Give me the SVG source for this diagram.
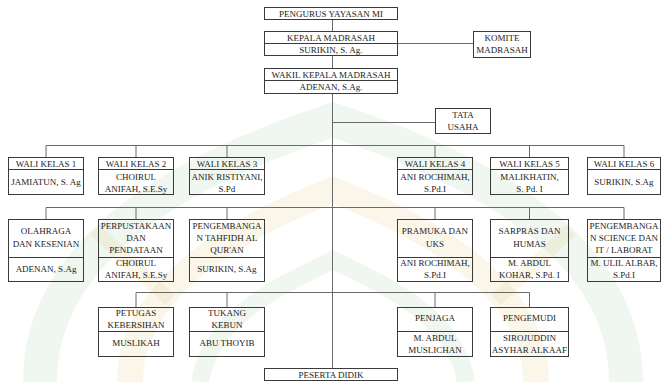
<svg xmlns="http://www.w3.org/2000/svg" width="662" height="382" viewBox="0 0 662 382">
<style>
.b{fill:none;stroke:#3a3a3a;stroke-width:1}
.d{stroke:#3a3a3a;stroke-width:1}
.c{fill:none;stroke:#6a6a6a;stroke-width:1}
text{font-family:"Liberation Serif","Times New Roman",serif;font-size:9px;fill:#222;text-anchor:middle}
.wg{fill:none;stroke:#6fa86f;stroke-opacity:0.10}
.wy{fill:none;stroke:#d8b860;stroke-opacity:0.13}
</style>
<rect width="662" height="382" fill="#fff"/>
<g id="watermark">
<path class="wg" stroke-width="34" d="M40,382 C40,250 180,170 333,120 C486,170 626,250 626,382"/>
<path class="wy" stroke-width="26" d="M130,382 C130,290 230,230 333,190 C436,230 536,290 536,382"/>
<path class="wg" stroke-width="18" d="M200,382 C210,320 270,290 333,260 C396,290 456,320 466,382"/>
<path class="wy" stroke-width="14" d="M95,230 L170,300 M571,230 L496,300"/>
</g>
<g id="connectors">
<path class="c" d="M332.5,19.5V31.5 M332.5,55.5V68.5 M332.5,93.5V368.5 M397.5,43.5H473.5 M332.5,122.5H435.5"/>
<path class="c" d="M46,145.5H624 M46,145.5V157.5 M136,145.5V157.5 M227,145.5V157.5 M435,145.5V157.5 M529.5,145.5V157.5 M624,145.5V157.5"/>
<path class="c" d="M46,207.5H624 M46,207.5V219.5 M136,207.5V219.5 M227,207.5V219.5 M435,207.5V219.5 M529.5,207.5V219.5 M624,207.5V219.5"/>
<path class="c" d="M136,292.5H529.5 M136,292.5V307.5 M227,292.5V307.5 M435,292.5V307.5 M529.5,292.5V307.5"/>
</g>
<g id="pengurus"><rect class="b" x="264.5" y="7.5" width="133" height="12"/><text x="331" y="16.5">PENGURUS YAYASAN MI</text></g>
<g id="kepala"><rect class="b" x="264.5" y="31.5" width="133" height="24"/><path class="d" d="M264.5,43.5H397.5"/><text x="331" y="40.5">KEPALA MADRASAH</text><text x="331" y="52.5">SURIKIN, S. Ag.</text></g>
<g id="komite"><rect class="b" x="473.5" y="31.5" width="57" height="26"/><text x="502" y="41">KOMITE</text><text x="502" y="53">MADRASAH</text></g>
<g id="wakil"><rect class="b" x="264.5" y="68.5" width="133" height="25"/><path class="d" d="M264.5,80.5H397.5"/><text x="331" y="77.5">WAKIL KEPALA MADRASAH</text><text x="331" y="90">ADENAN, S.Ag.</text></g>
<g id="tata"><rect class="b" x="435.5" y="108.5" width="55" height="25"/><text x="463" y="117.5">TATA</text><text x="463" y="130">USAHA</text></g>

<g id="wali1"><rect class="b" x="8.5" y="157.5" width="75" height="37"/><path class="d" d="M8.5,169.5H83.5"/><text x="46" y="166.5">WALI KELAS 1</text><text x="46" y="185">JAMIATUN, S. Ag</text></g>
<g id="wali2"><rect class="b" x="98.5" y="157.5" width="75" height="37"/><path class="d" d="M98.5,169.5H173.5"/><text x="136" y="166.5">WALI KELAS 2</text><text x="136" y="180">CHOIRUL</text><text x="136" y="192">ANIFAH, S.E.Sy</text></g>
<g id="wali3"><rect class="b" x="189.5" y="157.5" width="75" height="37"/><path class="d" d="M189.5,169.5H264.5"/><text x="227" y="166.5">WALI KELAS 3</text><text x="227" y="180">ANIK RISTIYANI,</text><text x="227" y="192">S.Pd</text></g>
<g id="wali4"><rect class="b" x="397.5" y="157.5" width="75" height="37"/><path class="d" d="M397.5,169.5H472.5"/><text x="435" y="166.5">WALI KELAS 4</text><text x="435" y="180">ANI ROCHIMAH,</text><text x="435" y="192">S.Pd.I</text></g>
<g id="wali5"><rect class="b" x="490.5" y="157.5" width="78" height="37"/><path class="d" d="M490.5,169.5H568.5"/><text x="529.5" y="166.5">WALI KELAS 5</text><text x="529.5" y="180">MALIKHATIN,</text><text x="529.5" y="192">S. Pd. I</text></g>
<g id="wali6"><rect class="b" x="587.5" y="157.5" width="73" height="37"/><path class="d" d="M587.5,169.5H660.5"/><text x="624" y="166.5">WALI KELAS 6</text><text x="624" y="185">SURIKIN, S.Ag</text></g>

<g id="olahraga"><rect class="b" x="8.5" y="219.5" width="75" height="62"/><path class="d" d="M8.5,257.5H83.5"/><text x="46" y="234">OLAHRAGA</text><text x="46" y="246.5">DAN KESENIAN</text><text x="46" y="271.5">ADENAN, S.Ag</text></g>
<g id="perpustakaan"><rect class="b" x="98.5" y="219.5" width="75" height="62"/><path class="d" d="M98.5,257.5H173.5"/><text x="136" y="228.5">PERPUSTAKAAN</text><text x="136" y="241">DAN</text><text x="136" y="253">PENDATAAN</text><text x="136" y="266">CHOIRUL</text><text x="136" y="278">ANIFAH, S.E.Sy</text></g>
<g id="tahfidh"><rect class="b" x="189.5" y="219.5" width="75" height="62"/><path class="d" d="M189.5,257.5H264.5"/><text x="227" y="228.5">PENGEMBANGA</text><text x="227" y="241">N TAHFIDH AL</text><text x="227" y="253">QUR'AN</text><text x="227" y="271.5">SURIKIN, S.Ag</text></g>
<g id="pramuka"><rect class="b" x="397.5" y="219.5" width="75" height="62"/><path class="d" d="M397.5,257.5H472.5"/><text x="435" y="234">PRAMUKA DAN</text><text x="435" y="246.5">UKS</text><text x="435" y="266">ANI ROCHIMAH,</text><text x="435" y="278">S.Pd.I</text></g>
<g id="sarpras"><rect class="b" x="490.5" y="219.5" width="78" height="62"/><path class="d" d="M490.5,257.5H568.5"/><text x="529.5" y="234">SARPRAS DAN</text><text x="529.5" y="246.5">HUMAS</text><text x="529.5" y="266">M. ABDUL</text><text x="529.5" y="278">KOHAR, S.Pd. I</text></g>
<g id="science"><rect class="b" x="587.5" y="219.5" width="73" height="62"/><path class="d" d="M587.5,257.5H660.5"/><text x="624" y="228.5">PENGEMBANGA</text><text x="624" y="241">N SCIENCE DAN</text><text x="624" y="253">IT / LABORAT</text><text x="624" y="266">M. ULIL ALBAB,</text><text x="624" y="278">S.Pd.I</text></g>

<g id="petugas"><rect class="b" x="98.5" y="307.5" width="75" height="49"/><path class="d" d="M98.5,331.5H173.5"/><text x="136" y="315.5">PETUGAS</text><text x="136" y="327.5">KEBERSIHAN</text><text x="136" y="346">MUSLIKAH</text></g>
<g id="tukang"><rect class="b" x="189.5" y="307.5" width="75" height="49"/><path class="d" d="M189.5,331.5H264.5"/><text x="227" y="315.5">TUKANG</text><text x="227" y="327.5">KEBUN</text><text x="227" y="346">ABU THOYIB</text></g>
<g id="penjaga"><rect class="b" x="397.5" y="307.5" width="75" height="49"/><path class="d" d="M397.5,331.5H472.5"/><text x="435" y="321">PENJAGA</text><text x="435" y="340.5">M. ABDUL</text><text x="435" y="353">MUSLICHAN</text></g>
<g id="pengemudi"><rect class="b" x="490.5" y="307.5" width="78" height="49"/><path class="d" d="M490.5,331.5H568.5"/><text x="529.5" y="321">PENGEMUDI</text><text x="529.5" y="340.5">SIROJUDDIN</text><text x="529.5" y="353">ASYHAR ALKAAF</text></g>
<g id="peserta"><rect class="b" x="264.5" y="368.5" width="133" height="12"/><text x="331" y="377.5">PESERTA DIDIK</text></g>
</svg>
